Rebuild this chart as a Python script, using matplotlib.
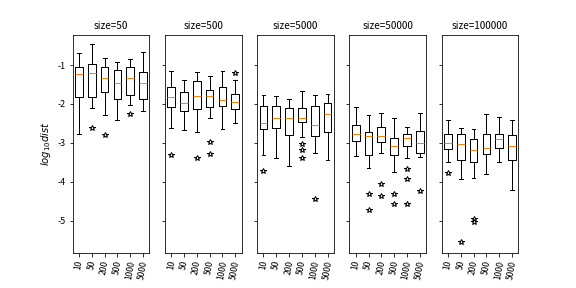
import matplotlib
matplotlib.use("Agg")
import matplotlib.pyplot as plt

plt.rcParams['font.family'] = ['Noto Sans CJK SC', 'DejaVu Sans']
plt.rcParams['axes.unicode_minus'] = False

sizes = [50, 500, 5000, 50000, 100000]
labels = ['10', '50', '200', '500', '1000', '5000']

# per panel: (whislo, q1, med, q3, whishi, fliers) for each label
stats_50 = [
    (-2.76, -1.83, -1.24, -1.04, -0.70, []),
    (-2.11, -1.81, -1.21, -0.98, -0.47, [-2.63]),
    (-2.29, -1.69, -1.32, -1.04, -0.83, [-2.80]),
    (-2.41, -1.87, -1.45, -1.13, -0.92, []),
    (-2.03, -1.76, -1.33, -1.04, -0.85, [-2.26]),
    (-2.18, -1.87, -1.47, -1.17, -0.66, []),
]
stats_500 = [
    (-2.63, -2.09, -1.83, -1.56, -1.15, [-3.31]),
    (-2.67, -2.17, -1.98, -1.68, -1.38, []),
    (-2.73, -2.14, -1.80, -1.40, -1.19, [-3.38]),
    (-2.35, -2.09, -1.80, -1.63, -1.27, [-2.98, -3.29]),
    (-2.65, -2.04, -1.90, -1.57, -1.16, []),
    (-2.50, -2.12, -1.96, -1.75, -1.38, [-1.20]),
]
stats_5000 = [
    (-3.32, -2.65, -2.50, -2.06, -1.78, [-3.73]),
    (-3.39, -2.63, -2.37, -2.04, -1.80, []),
    (-3.60, -2.81, -2.37, -2.11, -1.86, []),
    (-2.86, -2.47, -2.37, -2.11, -1.67, [-3.04, -3.19, -3.38]),
    (-3.27, -2.83, -2.53, -2.06, -1.78, [-4.44]),
    (-3.45, -2.73, -2.25, -1.98, -1.75, []),
]
stats_50000 = [
    (-3.34, -2.94, -2.76, -2.55, -2.09, []),
    (-3.65, -3.32, -2.83, -2.73, -2.29, [-4.31, -4.73]),
    (-3.27, -2.99, -2.83, -2.58, -2.23, [-4.05, -4.36]),
    (-3.76, -3.30, -3.09, -2.88, -2.37, [-4.31, -4.57]),
    (-3.40, -3.09, -2.88, -2.78, -2.58, [-3.68, -3.92, -4.57]),
    (-3.37, -3.25, -3.01, -2.70, -2.23, [-4.24]),
]
stats_100000 = [
    (-3.50, -3.17, -3.01, -2.78, -2.40, [-3.78]),
    (-3.94, -3.43, -3.04, -2.78, -2.63, [-5.54]),
    (-3.91, -3.49, -3.19, -2.91, -2.65, [-4.95, -5.03]),
    (-3.80, -3.28, -3.14, -2.78, -2.27, []),
    (-3.48, -3.14, -2.91, -2.76, -2.33, []),
    (-4.22, -3.45, -3.09, -2.81, -2.40, []),
]
all_stats = [stats_50, stats_500, stats_5000, stats_50000, stats_100000]

fig, axes = plt.subplots(1, 5, figsize=(8, 4), dpi=72, sharey=True)
fig.subplots_adjust(left=0.126, right=0.9, top=0.878, bottom=0.123, wspace=0.2)

for ax, size, panel in zip(axes, sizes, all_stats):
    bxp_stats = []
    for lab, (lo, q1, med, q3, hi, fl) in zip(labels, panel):
        bxp_stats.append({'label': lab, 'whislo': lo, 'q1': q1, 'med': med,
                          'q3': q3, 'whishi': hi, 'fliers': fl})
    ax.bxp(bxp_stats, widths=0.6, flierprops={'marker': '*', 'markersize': 6})
    ax.set_title(f'size={size}', fontsize=10)
    ax.tick_params(axis='x', labelrotation=80, labelsize=8.5)
    ax.tick_params(axis='y', labelsize=9)
    for t in ax.get_xticklabels():
        t.set_fontstyle('italic')

axes[0].set_ylabel('$log_{10}dist$', fontsize=10)
axes[0].set_ylim(-5.82, -0.23)

fig.savefig('out.png')
